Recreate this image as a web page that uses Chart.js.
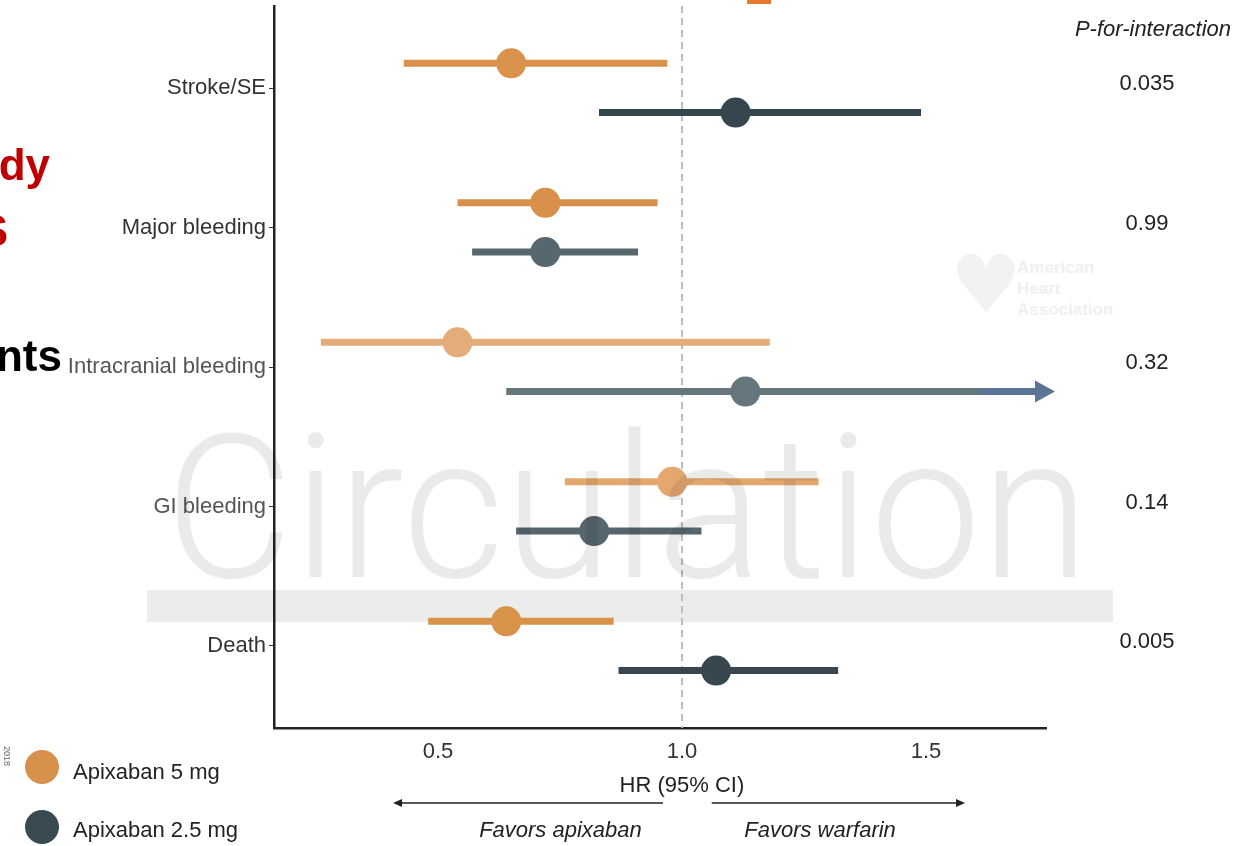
<!doctype html>
<html lang="en">
<head>
<meta charset="utf-8">
<title>Apixaban dose and outcomes</title>
<script src="https://cdn.jsdelivr.net/npm/chart.js@4"></script>
<style>
  body { margin: 0; width: 1236px; height: 846px; position: relative; overflow: hidden; background: #fff; font-family: "Liberation Sans", Arial, sans-serif; color: #222; }
  .abs { position: absolute; white-space: nowrap; }
  #band { left: 147px; top: 590px; width: 966px; height: 32px; background: #ececec; z-index: 0; }
  #c { position: absolute; left: 0; top: 0; z-index: 1; }
  #wm { left: 165px; top: 408px; font-family: Roboto, "Liberation Sans", sans-serif; font-weight: 300; font-size: 201px; line-height: 201px; color: #eaeaea; mix-blend-mode: multiply; transform-origin: left top; z-index: 2; pointer-events: none; }
  .slide { font-size: 44px; line-height: 44px; font-weight: bold; text-align: right; z-index: 3; }
  .aha { z-index: 0; color: #f0f0f0; font-weight: bold; font-size: 17px; line-height: 21px; }
  .leg { z-index: 3; font-size: 22px; line-height: 26px; }
  .dot { width: 34px; height: 34px; border-radius: 50%; z-index: 3; }
</style>
</head>
<body>
<div id="band" class="abs"></div>
<div class="abs aha" style="left:950px;top:242px;font-size:80px;line-height:86px;font-family:'DejaVu Sans';color:#f2f2f2">&#9829;</div>
<div class="abs aha" style="left:1017px;top:257px;">American<br>Heart<br>Association</div>
<canvas id="c" width="1236" height="846"></canvas>
<div id="wm" class="abs">Circulation</div>

<div class="abs" style="left:747px;top:0;width:24px;height:4px;background:#e8782e;z-index:3"></div>
<div class="abs slide" style="right:1186px;top:143px;color:#c00000">Study</div>
<div class="abs slide" style="right:1228px;top:209px;color:#c00000">RESULTS</div>
<div class="abs slide" style="right:1174px;top:334px;color:#000">Patients</div>
<div class="abs" style="left:12px;top:746px;font-size:9px;color:#666;transform:rotate(90deg);transform-origin:left top;z-index:3">2018</div>

<div class="abs dot" style="left:25px;top:750px;background:#d8914c"></div>
<div class="abs dot" style="left:25px;top:810px;background:#3a4a52"></div>
<div class="abs leg" style="left:73px;top:759px">Apixaban 5 mg</div>
<div class="abs leg" style="left:73px;top:817px">Apixaban 2.5 mg</div>

<script>
// outcomes (top to bottom)
const categories = ['Stroke/SE', 'Major bleeding', 'Intracranial bleeding', 'GI bleeding', 'Death']
const pValues = ['0.035', '0.99', '0.32', '0.14', '0.005']

// Apixaban 5 mg: HR and 95% CI
const hr5 = [0.65, 0.72, 0.54, 0.98, 0.64]
const lo5 = [0.43, 0.54, 0.26, 0.76, 0.48]
const hi5 = [0.97, 0.95, 1.18, 1.28, 0.86]

// Apixaban 2.5 mg: HR and 95% CI (intracranial upper limit runs off the axis)
const hr25 = [1.11, 0.72, 1.13, 0.82, 1.07]
const lo25 = [0.83, 0.57, 0.64, 0.66, 0.87]
const hi25 = [1.49, 0.91, 2.10, 1.04, 1.32]

const xTicks = [0.5, 1.0, 1.5]

const col5 = ['#d9914c', '#d8904a', '#e4ac78', '#e4a86f', '#d99249']
const col25 = ['#35464e', '#56676f', '#66767d', '#56666e', '#38474f']
const labelCol = ['#333', '#333', '#555', '#555', '#333']
const OFF5 = -0.177, OFF25 = 0.176
const XMIN = 0.164, XMAX = 1.746

const font = { family: '"Liberation Sans", Arial, sans-serif', size: 22 }

// squeeze the watermark to its span
const wm = document.getElementById('wm')
wm.style.transform = 'scaleX(' + (925 / wm.offsetWidth) + ')'

function arrowHead(ctx, x, y, dir, len, half) {
  ctx.beginPath()
  ctx.moveTo(x, y)
  ctx.lineTo(x - dir * len, y - half)
  ctx.lineTo(x - dir * len, y + half)
  ctx.closePath()
  ctx.fill()
}

const forest = {
  id: 'forest',
  beforeDatasetsDraw(chart) {
    const { ctx, chartArea: a, scales: { x, y } } = chart
    ctx.save()
    // line of no effect
    ctx.strokeStyle = '#bdbdbd'
    ctx.lineWidth = 2
    ctx.setLineDash([7, 5])
    ctx.beginPath()
    ctx.moveTo(x.getPixelForValue(1), a.top)
    ctx.lineTo(x.getPixelForValue(1), a.bottom)
    ctx.stroke()
    ctx.setLineDash([])

    ctx.lineWidth = 7
    function bar(lo, hi, yv, color) {
      const py = y.getPixelForValue(yv)
      const x0 = x.getPixelForValue(lo)
      if (hi > XMAX) {
        const tip = a.right + 9
        ctx.strokeStyle = color
        ctx.beginPath(); ctx.moveTo(x0, py); ctx.lineTo(tip - 75, py); ctx.stroke()
        ctx.strokeStyle = '#5a7596'
        ctx.beginPath(); ctx.moveTo(tip - 75, py); ctx.lineTo(tip - 18, py); ctx.stroke()
        ctx.fillStyle = '#5a7596'
        arrowHead(ctx, tip, py, 1, 20, 11)
        return
      }
      ctx.strokeStyle = color
      ctx.beginPath(); ctx.moveTo(x0, py); ctx.lineTo(x.getPixelForValue(hi), py); ctx.stroke()
    }
    categories.forEach((c, i) => {
      bar(lo5[i], hi5[i], i + OFF5, col5[i])
      bar(lo25[i], hi25[i], i + OFF25, col25[i])
    })
    ctx.restore()
  },
  afterDraw(chart) {
    const { ctx, scales: { x, y } } = chart
    ctx.save()
    ctx.fillStyle = '#222'
    ctx.textBaseline = 'middle'
    // p for interaction column
    ctx.font = 'italic 22px "Liberation Sans", Arial, sans-serif'
    ctx.textAlign = 'right'
    ctx.fillText('P-for-interaction', 1231, 30)
    ctx.font = '22px "Liberation Sans", Arial, sans-serif'
    ctx.textAlign = 'center'
    pValues.forEach((p, i) => ctx.fillText(p, 1147, y.getPixelForValue(i) - 4))

    // axis title
    ctx.fillText('HR (95% CI)', x.getPixelForValue(1), 786)

    // favors arrows
    const ay = 803
    ctx.strokeStyle = '#222'
    ctx.lineWidth = 1.5
    const l0 = x.getPixelForValue(0.961), l1 = x.getPixelForValue(0.408)
    const r0 = x.getPixelForValue(1.061), r1 = x.getPixelForValue(1.580)
    ctx.beginPath(); ctx.moveTo(l0, ay); ctx.lineTo(l1 + 6, ay); ctx.stroke()
    ctx.beginPath(); ctx.moveTo(r0, ay); ctx.lineTo(r1 - 6, ay); ctx.stroke()
    arrowHead(ctx, l1, ay, -1, 9, 4)
    arrowHead(ctx, r1, ay, 1, 9, 4)
    ctx.font = 'italic 22px "Liberation Sans", Arial, sans-serif'
    ctx.fillText('Favors apixaban', x.getPixelForValue(0.751), 831)
    ctx.fillText('Favors warfarin', x.getPixelForValue(1.283), 831)
    ctx.restore()
  }
}

new Chart(document.getElementById('c'), {
  type: 'scatter',
  data: {
    datasets: [
      {
        label: 'Apixaban 5 mg',
        data: categories.map((c, i) => ({ x: hr5[i], y: i + OFF5 })),
        backgroundColor: col5,
        borderWidth: 0,
        pointRadius: 15
      },
      {
        label: 'Apixaban 2.5 mg',
        data: categories.map((c, i) => ({ x: hr25[i], y: i + OFF25 })),
        backgroundColor: col25,
        borderWidth: 0,
        pointRadius: 15
      }
    ]
  },
  options: {
    responsive: false,
    devicePixelRatio: 1,
    animation: false,
    clip: false,
    layout: { autoPadding: false, padding: { top: 6, right: 190, left: 0, bottom: 0 } },
    scales: {
      x: {
        type: 'linear',
        min: XMIN,
        max: XMAX,
        afterBuildTicks: s => { s.ticks = xTicks.map(v => ({ value: v })) },
        afterFit: s => { s.height = 118 },
        ticks: { font, color: '#333', padding: 11, callback: v => v.toFixed(1) },
        grid: { drawOnChartArea: false, drawTicks: false },
        border: { color: '#222', width: 2.5 }
      },
      y: {
        type: 'linear',
        reverse: true,
        min: -0.588,
        max: 4.588,
        afterBuildTicks: s => { s.ticks = categories.map((c, i) => ({ value: i })) },
        afterFit: s => { s.width = 274; s.paddingTop = 0; s.paddingBottom = 0 },
        ticks: {
          font,
          color: ctx => labelCol[ctx.index] || '#333',
          padding: 3,
          callback: v => categories[v]
        },
        grid: { drawOnChartArea: false, tickLength: 5, color: '#333' },
        border: { color: '#222', width: 2.5 }
      }
    },
    plugins: { legend: { display: false }, tooltip: { enabled: false } }
  },
  plugins: [forest]
})
</script>
</body>
</html>
